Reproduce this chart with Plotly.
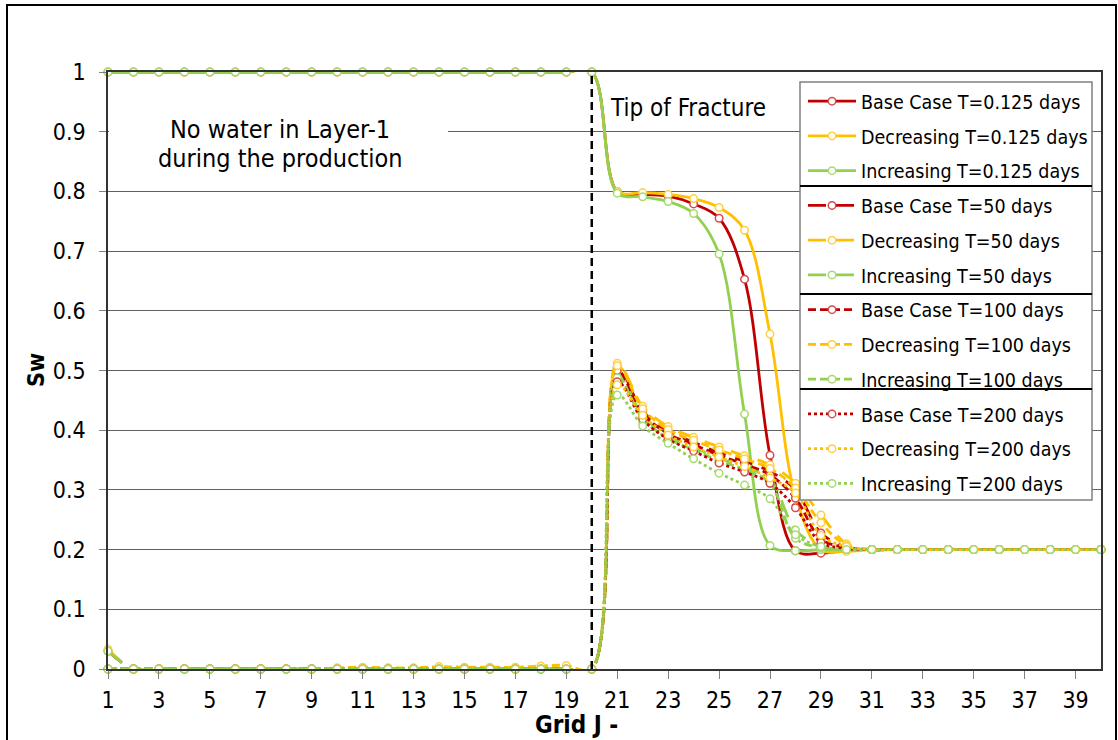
import plotly.graph_objects as go

grid_j = list(range(1, 41))
tick_vals = list(range(1, 40, 2))
y_ticks = [0, 0.1, 0.2, 0.3, 0.4, 0.5, 0.6, 0.7, 0.8, 0.9, 1.0]
y_tick_text = ["0", "0.1", "0.2", "0.3", "0.4", "0.5", "0.6", "0.7", "0.8", "0.9", "1"]

tail = [0.2] * 9  # J = 32..40

base_0125 = [1.0] * 20 + [0.800, 0.795, 0.792, 0.779, 0.755, 0.653, 0.358, 0.198, 0.194, 0.199, 0.200] + tail
decr_0125 = [1.0] * 20 + [0.800, 0.798, 0.795, 0.788, 0.773, 0.735, 0.561, 0.290, 0.200, 0.197, 0.200] + tail
incr_0125 = [1.0] * 20 + [0.797, 0.791, 0.783, 0.763, 0.695, 0.427, 0.207, 0.198, 0.200, 0.200, 0.200] + tail

base_50 = [0.030] + [0.0] * 19 + [0.505, 0.432, 0.398, 0.380, 0.362, 0.348, 0.331, 0.300, 0.228, 0.204, 0.200] + tail
decr_50 = [0.033] + [0.0] * 19 + [0.512, 0.440, 0.406, 0.388, 0.372, 0.357, 0.342, 0.311, 0.258, 0.210, 0.200] + tail
incr_50 = [0.030] + [0.0] * 19 + [0.495, 0.424, 0.390, 0.371, 0.353, 0.338, 0.318, 0.233, 0.205, 0.200, 0.200] + tail

base_100 = [0.0] * 20 + [0.500, 0.428, 0.394, 0.376, 0.358, 0.343, 0.325, 0.286, 0.218, 0.203, 0.200] + tail
decr_100 = ([0.0] * 9 + [0.002, 0.003, 0.002, 0.002, 0.004, 0.003, 0.003, 0.003, 0.005, 0.006, 0.0]
            + [0.508, 0.436, 0.401, 0.383, 0.367, 0.352, 0.336, 0.303, 0.245, 0.207, 0.200] + tail)
incr_100 = [0.0] * 20 + [0.488, 0.420, 0.386, 0.367, 0.349, 0.334, 0.311, 0.219, 0.203, 0.200, 0.200] + tail

base_200 = [0.0] * 20 + [0.481, 0.418, 0.385, 0.365, 0.345, 0.330, 0.311, 0.270, 0.212, 0.202, 0.200] + tail
decr_200 = [0.0] * 20 + [0.476, 0.425, 0.392, 0.372, 0.355, 0.339, 0.320, 0.295, 0.224, 0.205, 0.200] + tail
incr_200 = [0.0] * 20 + [0.459, 0.407, 0.378, 0.352, 0.328, 0.308, 0.285, 0.225, 0.205, 0.200, 0.200] + tail

RED, ORANGE, GREEN = "#C00000", "#FFC000", "#92D050"
RED_M, ORANGE_M, GREEN_M = "#D84A4A", "#FFD040", "#A8DA70"

series = [
    ("Base Case T=0.125 days", base_0125, RED, RED_M, "solid"),
    ("Decreasing T=0.125 days", decr_0125, ORANGE, ORANGE_M, "solid"),
    ("Increasing T=0.125 days", incr_0125, GREEN, GREEN_M, "solid"),
    ("Base Case T=50 days", base_50, RED, RED_M, "18px,10px"),
    ("Decreasing T=50 days", decr_50, ORANGE, ORANGE_M, "18px,10px"),
    ("Increasing T=50 days", incr_50, GREEN, GREEN_M, "18px,10px"),
    ("Base Case T=100 days", base_100, RED, RED_M, "8px,4px"),
    ("Decreasing T=100 days", decr_100, ORANGE, ORANGE_M, "8px,4px"),
    ("Increasing T=100 days", incr_100, GREEN, GREEN_M, "8px,4px"),
    ("Base Case T=200 days", base_200, RED, RED_M, "3px,3px"),
    ("Decreasing T=200 days", decr_200, ORANGE, ORANGE_M, "3px,3px"),
    ("Increasing T=200 days", incr_200, GREEN, GREEN_M, "3px,3px"),
]

FONT = "Tahoma, 'DejaVu Sans Condensed', 'DejaVu Sans', sans-serif"

fig = go.Figure()
for i, (name, vals, col, mcol, dash) in enumerate(series):
    fig.add_trace(go.Scatter(
        x=grid_j, y=vals, name=name, mode="lines+markers",
        line=dict(color=col, width=2.8, dash=dash, shape="spline", smoothing=1.0),
        marker=dict(symbol="circle", size=7.5, color="white", line=dict(color=mcol, width=1.5)),
        cliponaxis=False, legendgroup="g%d" % i,
    ))

# pixel helpers for decoration placement (plot area: x 108..1101, y 72..669)
def jx(px):
    return 1 + (px - 108) / ((1101 - 108) / 39)

def vy(py):
    return (669 - py) / 597

def px_x(px):
    return (px - 108) / 993

def px_y(py):
    return (669 - py) / 597

shapes = [
    # white box behind the note
    dict(type="rect", xref="x", yref="y", x0=jx(109), x1=jx(448), y0=vy(178), y1=vy(108),
         fillcolor="white", line=dict(width=0), layer="above"),
    # tip of fracture marker line
    dict(type="line", xref="x", yref="y", x0=20, x1=20, y0=0, y1=1.015,
         line=dict(color="black", width=2.5, dash="8px,5px"), layer="above"),
    # legend box
    dict(type="rect", xref="x", yref="y", x0=jx(800), x1=jx(1092), y0=vy(500), y1=vy(82),
         fillcolor="white", line=dict(color="#808080", width=1.5), layer="above"),
    # chart border
    dict(type="rect", xref="paper", yref="paper", x0=px_x(7), x1=px_x(1116),
         y0=px_y(745), y1=px_y(5), line=dict(color="black", width=2), layer="above"),
]
for py in (186, 294, 389):
    shapes.append(dict(type="line", xref="x", yref="y", x0=jx(800), x1=jx(1092), y0=vy(py), y1=vy(py),
                       line=dict(color="black", width=2), layer="above"))

annotations = [
    dict(x=jx(280), y=vy(129), xref="x", yref="y", text="No water in Layer-1",
         showarrow=False, font=dict(family=FONT, size=25, color="black")),
    dict(x=jx(280), y=vy(158), xref="x", yref="y", text="during the production",
         showarrow=False, font=dict(family=FONT, size=25, color="black")),
    dict(x=jx(688), y=vy(108), xref="x", yref="y", text="Tip of Fracture",
         showarrow=False, font=dict(family=FONT, size=24, color="black")),
    dict(x=px_x(576), y=px_y(725), xref="paper", yref="paper", text="<b>Grid J -</b>",
         xanchor="center", yanchor="middle",
         showarrow=False, font=dict(family=FONT, size=24, color="black")),
    dict(x=px_x(36), y=px_y(370), xref="paper", yref="paper", text="<b>Sw</b>", textangle=-90,
         xanchor="center", yanchor="middle",
         showarrow=False, font=dict(family=FONT, size=23, color="black")),
]

fig.update_layout(
    width=1118, height=740,
    margin=dict(l=108, r=17, t=72, b=71),
    paper_bgcolor="white", plot_bgcolor="white",
    font=dict(family=FONT, size=23, color="black"),
    shapes=shapes, annotations=annotations,
    legend=dict(x=px_x(803), y=px_y(82), xanchor="left", yanchor="top",
                bgcolor="rgba(0,0,0,0)", borderwidth=0, tracegroupgap=6.4,
                font=dict(family=FONT, size=19.5, color="black"), itemwidth=48),
    xaxis=dict(range=[1, 40], tickvals=tick_vals, showgrid=False, showline=True, mirror=True,
               linecolor="#333333", linewidth=1.5, ticks="outside", ticklen=8, tickcolor="#808080",
               ticklabelstandoff=2, zeroline=False, tickfont=dict(family=FONT, size=23)),
    yaxis=dict(range=[0, 1], tickvals=y_ticks, ticktext=y_tick_text, showgrid=True,
               gridcolor="#606060", gridwidth=1, showline=True, mirror=True, linecolor="#333333",
               linewidth=1.5, ticks="outside", ticklen=7, tickcolor="#808080",
               ticklabelstandoff=9, zeroline=False, tickfont=dict(family=FONT, size=23)),
)

fig.write_html("out.html")
